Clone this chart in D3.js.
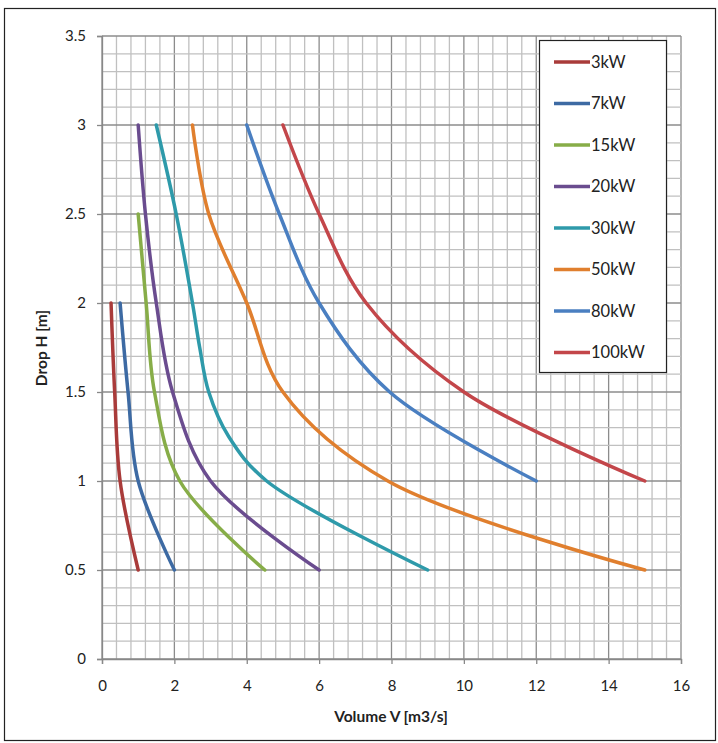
<!DOCTYPE html>
<html lang="en">
<head>
<meta charset="UTF-8">
<title>Drop vs Volume</title>
<script src="https://d3js.org/d3.v7.min.js"></script>
<style>
  body { margin: 0; background: #fff; }
  svg { display: block; font-family: Lato, "Open Sans", sans-serif; }
</style>
</head>
<body>
<svg id="chart"></svg>
<script>
    const width = 718;
    const height = 743;

    // series names and colours
    var names = ["3kW", "7kW", "15kW", "20kW", "30kW", "50kW", "80kW", "100kW"];
    var colors = ["#a93b3a", "#3d6aa3", "#87ad48", "#6a4c8f", "#2e9aaa", "#e07f2e", "#4a7fc1", "#c3464a"];

    // drop H [m] for each series
    var drops = [
        [2, 1.5, 1, 0.5],
        [2, 1.5, 1, 0.5],
        [2.5, 2, 1.5, 1, 0.5],
        [3, 2.5, 2, 1.5, 1, 0.5],
        [3, 2.5, 2, 1.75, 1.5, 1.25, 1, 0.5],
        [3, 2.5, 2, 1.5, 1, 0.5],
        [3, 2.5, 2, 1.5, 1],
        [3, 2.5, 2, 1.5, 1]
    ];
    // volume V [m3/s] for each series
    var volumes = [
        [0.25, 0.35, 0.5, 1.0],
        [0.5, 0.72, 1.0, 2.0],
        [1.0, 1.22, 1.45, 2.15, 4.5],
        [1.0, 1.2, 1.5, 1.95, 3.0, 6.0],
        [1.5, 2.05, 2.5, 2.7, 2.95, 3.5, 4.55, 9.0],
        [2.5, 2.95, 4.0, 5.0, 7.9, 15.0],
        [4.0, 4.9, 6.0, 7.95, 12.0],
        [5.0, 6.0, 7.3, 10.0, 15.0]
    ];

    var xTicks = [0, 2, 4, 6, 8, 10, 12, 14, 16];
    var yTicks = [0, 0.5, 1, 1.5, 2, 2.5, 3, 3.5];

    const margin = ({top: 36, right: 37, bottom: 84, left: 102});

    const svg = d3.select("#chart")
        .attr("width", width)
        .attr("height", height);

    // outer frame
    svg.append("rect")
        .attr("x", 4.5).attr("y", 8.5)
        .attr("width", 711).attr("height", 732)
        .attr("fill", "white")
        .attr("stroke", "#222")
        .attr("stroke-width", 1.2);

    const x = d3.scaleLinear()
        .domain([0, 16])
        .range([margin.left, width - margin.right]);

    const y = d3.scaleLinear()
        .domain([0, 3.5])
        .range([height - margin.bottom, margin.top]);

    // minor grid
    const grid = svg.append("g");
    grid.selectAll("line.vx")
        .data(d3.range(0, 41).map(i => i * 0.4))
        .join("line")
        .attr("x1", d => x(d)).attr("x2", d => x(d))
        .attr("y1", y(0)).attr("y2", y(3.5))
        .attr("stroke", d => (Math.round(d * 10) % 20 === 0) ? "#8c8c8c" : "#c0c0c0")
        .attr("stroke-width", 1.3);
    grid.selectAll("line.hy")
        .data(d3.range(0, 36).map(i => i * 0.1))
        .join("line")
        .attr("x1", x(0)).attr("x2", x(16))
        .attr("y1", d => y(d)).attr("y2", d => y(d))
        .attr("stroke", d => (Math.round(d * 10) % 5 === 0) ? "#8c8c8c" : "#c0c0c0")
        .attr("stroke-width", 1.3);

    // axes
    const xAxis = g => g
        .attr("transform", `translate(0,${y(0)})`)
        .call(d3.axisBottom(x).tickValues(xTicks).tickSize(5).tickPadding(16).tickFormat(d3.format("d")))
        .call(g => g.select(".domain").attr("stroke", "#888").attr("stroke-width", 1.3))
        .call(g => g.selectAll(".tick line").attr("stroke", "#888").attr("stroke-width", 1.3))
        .call(g => g.selectAll(".tick text").attr("font-size", 15).attr("fill", "#222")
            .attr("font-family", "Lato, 'Open Sans', sans-serif"));

    const yAxis = g => g
        .attr("transform", `translate(${x(0)},0)`)
        .call(d3.axisLeft(y).tickValues(yTicks).tickSize(5).tickPadding(11).tickFormat(d => d))
        .call(g => g.select(".domain").attr("stroke", "#888").attr("stroke-width", 1.3))
        .call(g => g.selectAll(".tick line").attr("stroke", "#888").attr("stroke-width", 1.3))
        .call(g => g.selectAll(".tick text").attr("font-size", 15).attr("fill", "#222")
            .attr("font-family", "Lato, 'Open Sans', sans-serif"));

    svg.append("g").call(xAxis);
    svg.append("g").call(yAxis);

    // axis titles
    svg.append("text")
        .attr("x", 391).attr("y", 722)
        .attr("text-anchor", "middle")
        .attr("font-size", 15.5).attr("font-weight", "bold").attr("fill", "#222")
        .text("Volume V [m3/s]");

    svg.append("text")
        .attr("transform", "translate(47,348) rotate(-90)")
        .attr("text-anchor", "middle")
        .attr("font-size", 15.5).attr("font-weight", "bold").attr("fill", "#222")
        .text("Drop H [m]");

    // curves
    const line = d3.line()
        .x(d => x(d[0]))
        .y(d => y(d[1]))
        .curve(d3.curveCatmullRom.alpha(0.5));

    svg.append("g")
        .attr("fill", "none")
        .attr("stroke-width", 3.5)
        .attr("stroke-linecap", "round")
        .attr("stroke-linejoin", "round")
        .selectAll("path")
        .data(names.map((n, i) => ({name: n, pts: volumes[i].map((v, j) => [v, drops[i][j]])})))
        .join("path")
        .attr("stroke", (d, i) => colors[i])
        .attr("d", d => line(d.pts));

    // legend
    const legend = svg.append("g");
    legend.append("rect")
        .attr("x", 539.5).attr("y", 40.5)
        .attr("width", 127).attr("height", 332)
        .attr("fill", "white")
        .attr("stroke", "#222")
        .attr("stroke-width", 1.2);

    const items = legend.selectAll("g.item")
        .data(names)
        .join("g")
        .attr("transform", (d, i) => `translate(0,${62 + i * 41.5})`);
    items.append("line")
        .attr("x1", 554).attr("x2", 590)
        .attr("stroke", (d, i) => colors[i])
        .attr("stroke-width", 3.5);
    items.append("text")
        .attr("x", 591).attr("y", 0)
        .attr("dy", "0.35em")
        .attr("font-size", 16.5).attr("fill", "#222")
        .text(d => d);
</script>
</body>
</html>
